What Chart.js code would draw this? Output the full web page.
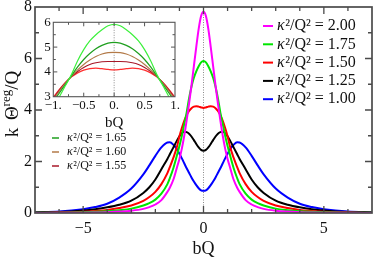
<!DOCTYPE html>
<html><head><meta charset="utf-8">
<script src="https://cdn.jsdelivr.net/npm/chart.js@4/dist/chart.umd.min.js"></script>
<style>
html,body{margin:0;padding:0;background:#fff;}
#wrap{position:relative;width:374px;height:261px;overflow:hidden;}
#main{position:absolute;left:0;top:0;}
#inset{position:absolute;left:36px;top:14px;}
</style></head><body>
<div id="wrap"><canvas id="main" width="374" height="261"></canvas><canvas id="inset" width="150" height="162"></canvas></div>
<script>
// ---------- DATA ----------
const bQ = [-7,-6,-5,-4.5,-4,-3.5,-3,-2.5,-2.25,-2,-1.75,-1.5,-1.4,-1.25,-1.1,-1,-0.9,-0.8,-0.7,-0.6,-0.5,-0.4,-0.3,-0.2,-0.1,0,0.1,0.2,0.3,0.4,0.5,0.6,0.7,0.8,0.9,1,1.1,1.25,1.4,1.5,1.75,2,2.25,2.5,3,3.5,4,4.5,5,6,7];
const kappaMain = ['2.00','1.75','1.50','1.25','1.00'];
const theta200 = [0.002,0.005,0.013,0.02,0.033,0.055,0.09,0.16,0.23,0.33,0.5,0.82,0.98,1.3,1.78,2.1,2.5,3.0,3.6,4.25,4.95,5.7,6.45,7.15,7.65,7.82,7.65,7.15,6.45,5.7,4.95,4.25,3.6,3.0,2.5,2.1,1.78,1.3,0.98,0.82,0.5,0.33,0.23,0.16,0.09,0.055,0.033,0.02,0.013,0.005,0.002];
const theta175 = [0.005,0.012,0.03,0.045,0.07,0.11,0.17,0.29,0.38,0.52,0.75,1.12,1.35,1.75,2.25,2.6,3.0,3.45,3.9,4.45,4.9,5.25,5.5,5.7,5.85,5.9,5.85,5.7,5.5,5.25,4.9,4.45,3.9,3.45,3.0,2.6,2.25,1.75,1.35,1.12,0.75,0.52,0.38,0.29,0.17,0.11,0.07,0.045,0.03,0.012,0.005];
const theta150 = [0.01,0.02,0.05,0.08,0.12,0.19,0.29,0.47,0.62,0.82,1.12,1.55,1.78,2.15,2.58,2.98,3.3,3.58,3.8,3.96,4.07,4.13,4.15,4.13,4.1,4.08,4.1,4.13,4.15,4.13,4.07,3.96,3.8,3.58,3.3,2.98,2.58,2.15,1.78,1.55,1.12,0.82,0.62,0.47,0.29,0.19,0.12,0.08,0.05,0.02,0.01];
const theta125 = [0.02,0.04,0.1,0.15,0.22,0.32,0.48,0.78,1.0,1.3,1.7,2.1,2.28,2.55,2.82,2.98,3.1,3.16,3.14,3.08,2.97,2.83,2.68,2.55,2.45,2.42,2.45,2.55,2.68,2.83,2.97,3.08,3.14,3.16,3.1,2.98,2.82,2.55,2.28,2.1,1.7,1.3,1.0,0.78,0.48,0.32,0.22,0.15,0.1,0.04,0.02];
const theta100 = [0.03,0.06,0.15,0.23,0.36,0.6,0.95,1.5,1.85,2.22,2.55,2.74,2.75,2.65,2.47,2.3,2.12,1.93,1.74,1.56,1.38,1.22,1.08,0.96,0.88,0.86,0.88,0.96,1.08,1.22,1.38,1.56,1.74,1.93,2.12,2.3,2.47,2.65,2.75,2.74,2.55,2.22,1.85,1.5,0.95,0.6,0.36,0.23,0.15,0.06,0.03];

const bQInset = [-1,-0.9,-0.8,-0.7,-0.6,-0.5,-0.4,-0.3,-0.2,-0.1,0,0.1,0.2,0.3,0.4,0.5,0.6,0.7,0.8,0.9,1];
const kappaInset = ['1.75','1.65','1.60','1.55','1.50'];
const inset175 = [2.6,3.0,3.45,3.9,4.45,4.9,5.25,5.5,5.7,5.86,5.92,5.86,5.7,5.5,5.25,4.9,4.45,3.9,3.45,3.0,2.6];
const inset165 = [2.8,3.15,3.5,3.85,4.2,4.5,4.74,4.93,5.07,5.16,5.19,5.16,5.07,4.93,4.74,4.5,4.2,3.85,3.5,3.15,2.8];
const inset160 = [2.88,3.22,3.55,3.83,4.08,4.3,4.48,4.62,4.72,4.78,4.79,4.78,4.72,4.62,4.48,4.3,4.08,3.83,3.55,3.22,2.88];
const inset155 = [2.93,3.27,3.57,3.82,4.02,4.18,4.3,4.37,4.41,4.42,4.42,4.42,4.41,4.37,4.3,4.18,4.02,3.82,3.57,3.27,2.93];
const inset150 = [2.98,3.3,3.58,3.8,3.96,4.07,4.13,4.15,4.13,4.1,4.08,4.1,4.13,4.15,4.13,4.07,3.96,3.8,3.58,3.3,2.98];
const insetLegendKappa = ['1.65','1.60','1.55'];

const xTickValues = [-5,0,5];
const xTickLabels = ['\u22125','0','5'];
const xTickMarks = [-6,-5,-4,-3,-2,-1,0,1,2,3,4,5,6];
const yTickValues = [0,2,4,6,8];
const yTickLabels = ['0','2','4','6','8'];
const yTickMarks = [1,2,3,4,5,6,7];

const insetXTickValues = [-1,-0.5,0,0.5,1];
const insetXTickLabels = ['\u22121.','\u22120.5','0.','0.5','1.'];
const insetXTickMarks = [-0.75,-0.5,-0.25,0,0.25,0.5,0.75];
const insetYTickValues = [3,4,5,6];
const insetYTickLabels = ['3','4','5','6'];
const insetYTickMarks = [3.5,4,4.5,5,5.5];

// ---------- STYLES ----------
const FONT = "'Liberation Serif','Times New Roman',serif";
const mainColors = ['#ff00ff','#00e600','#ff0000','#000000','#0000ff'];
const insetColors = ['#3cf03c','#1f9f1f','#b37a48','#a81828','#ff2f2f'];

function zeroPad(s){ s.paddingTop=0; s.paddingBottom=0; s.paddingLeft=0; s.paddingRight=0; }

function kappaText(ctx, x, y, value, size){
  ctx.font = 'italic ' + size + 'px ' + FONT;
  ctx.fillText('\u03BA', x, y);
  const w = ctx.measureText('\u03BA').width;
  ctx.font = size + 'px ' + FONT;
  ctx.fillText('\u00B2/Q\u00B2 = ' + value, x + w + 0.5, y);
}

function drawFrame(chart, cfg){
  const ctx = chart.ctx, a = chart.chartArea, xs = chart.scales.x, ys = chart.scales.y;
  ctx.save();
  ctx.strokeStyle = cfg.color;
  ctx.lineWidth = cfg.tickWidth;
  ctx.beginPath();
  cfg.xMarks.forEach(v => {
    const p = xs.getPixelForValue(v);
    const L = cfg.xMajor.includes(v) ? cfg.major : cfg.minor;
    ctx.moveTo(p, a.bottom); ctx.lineTo(p, a.bottom - L);
    ctx.moveTo(p, a.top); ctx.lineTo(p, a.top + L);
  });
  cfg.yMarks.forEach(v => {
    const p = ys.getPixelForValue(v);
    const L = cfg.yMajor.includes(v) ? cfg.major : cfg.minor;
    ctx.moveTo(a.left, p); ctx.lineTo(a.left + L, p);
    ctx.moveTo(a.right, p); ctx.lineTo(a.right - L, p);
  });
  ctx.stroke();
  ctx.lineWidth = cfg.frameWidth;
  ctx.strokeRect(a.left, a.top, a.right - a.left, a.bottom - a.top);
  ctx.restore();
}

function drawZeroLine(chart){
  const ctx = chart.ctx, a = chart.chartArea;
  const p = chart.scales.x.getPixelForValue(0);
  ctx.save();
  ctx.strokeStyle = '#8a8a8a';
  ctx.lineWidth = 1;
  ctx.setLineDash([1,1.5]);
  ctx.beginPath(); ctx.moveTo(p, a.top); ctx.lineTo(p, a.bottom); ctx.stroke();
  ctx.restore();
}

// ---------- MAIN CHART ----------
const mainValues = [theta200, theta175, theta150, theta125, theta100];
const mainDeco = {
  id: 'mainDeco',
  beforeDatasetsDraw(chart){ drawZeroLine(chart); },
  afterDraw(chart){
    drawFrame(chart, {color:'#4a4a4a', tickWidth:1.3, frameWidth:1.7, major:7, minor:4,
      xMarks:xTickMarks, xMajor:xTickValues, yMarks:yTickMarks, yMajor:yTickValues});
    const ctx = chart.ctx;
    ctx.save();
    ctx.fillStyle = '#111';
    ctx.font = '18px ' + FONT;
    ctx.textAlign = 'center'; ctx.textBaseline = 'middle';
    ctx.fillText('bQ', chart.scales.x.getPixelForValue(0), 249);
    ctx.translate(18, 104);
    ctx.rotate(-Math.PI/2);
    ctx.textAlign = 'left'; ctx.textBaseline = 'alphabetic';
    const parts = [['k\u2009\u2009\u0398', 19, 0], ['reg', 13, -8], ['/Q', 19, 0]];
    let total = 0;
    parts.forEach(p => { ctx.font = p[1] + 'px ' + FONT; total += ctx.measureText(p[0]).width; });
    let x = -total/2;
    parts.forEach(p => { ctx.font = p[1] + 'px ' + FONT; ctx.fillText(p[0], x, p[2]); x += ctx.measureText(p[0]).width; });
    ctx.restore();
    ctx.save();
    ctx.textBaseline = 'middle'; ctx.textAlign = 'left'; ctx.fillStyle = '#111';
    chart.data.datasets.forEach((ds, i) => {
      const y = 26 + i * 18.3;
      ctx.strokeStyle = ds.borderColor; ctx.lineWidth = 2;
      ctx.beginPath(); ctx.moveTo(263, y); ctx.lineTo(273, y); ctx.stroke();
      ctx.fillStyle = '#111';
      kappaText(ctx, 277, y, ds.kappa, 16);
    });
    ctx.restore();
  }
};

new Chart(document.getElementById('main'), {
  type: 'line',
  data: {
    datasets: mainValues.map((vals, i) => ({
      label: '\u03BA\u00B2/Q\u00B2 = ' + kappaMain[i],
      kappa: kappaMain[i],
      data: bQ.map((x, j) => ({x: x, y: vals[j]})),
      borderColor: mainColors[i],
      borderWidth: 2,
      pointRadius: 0,
      fill: false,
      cubicInterpolationMode: 'monotone'
    }))
  },
  options: {
    responsive: false, animation: false, devicePixelRatio: 1,
    layout: {padding: {top: 7, right: 2, left: 0, bottom: 0}},
    plugins: {legend: {display: false}, tooltip: {enabled: false}},
    scales: {
      x: {
        type: 'linear', min: -7, max: 7,
        grid: {display: false, drawTicks: false}, border: {display: false},
        afterBuildTicks: s => { s.ticks = xTickValues.map(v => ({value: v})); },
        afterFit: s => { s.height = 48; zeroPad(s); },
        ticks: {autoSkip: false, maxRotation: 0, padding: 6.5, color: '#111',
          font: {family: FONT, size: 16}, callback: (v, i) => xTickLabels[i]}
      },
      y: {
        type: 'linear', min: 0, max: 8,
        grid: {display: false, drawTicks: false}, border: {display: false},
        afterBuildTicks: s => { s.ticks = yTickValues.map(v => ({value: v})); },
        afterFit: s => { s.width = 35; zeroPad(s); },
        ticks: {autoSkip: false, padding: 3, color: '#111',
          font: {family: FONT, size: 16}, callback: (v, i) => yTickLabels[i]}
      }
    }
  },
  plugins: [mainDeco]
});

// ---------- INSET ----------
const insetValues = [inset175, inset165, inset160, inset155, inset150];
const insetDeco = {
  id: 'insetDeco',
  beforeDatasetsDraw(chart){ drawZeroLine(chart); },
  afterDraw(chart){
    drawFrame(chart, {color:'#555', tickWidth:1, frameWidth:1.1, major:4, minor:2.5,
      xMarks:insetXTickMarks, xMajor:insetXTickValues, yMarks:insetYTickMarks, yMajor:insetYTickValues});
    const ctx = chart.ctx;
    ctx.save();
    ctx.fillStyle = '#111';
    ctx.font = '15px ' + FONT;
    ctx.textAlign = 'center'; ctx.textBaseline = 'middle';
    ctx.fillText('bQ', chart.scales.x.getPixelForValue(0), 109);
    ctx.textAlign = 'left';
    insetLegendKappa.forEach((k, i) => {
      const ds = chart.data.datasets.find(d => d.kappa === k);
      const y = 124 + i * 14;
      ctx.strokeStyle = ds.borderColor; ctx.lineWidth = 1.5;
      ctx.beginPath(); ctx.moveTo(16, y); ctx.lineTo(23, y); ctx.stroke();
      kappaText(ctx, 31, y, k, 12);
    });
    ctx.restore();
  }
};

new Chart(document.getElementById('inset'), {
  type: 'line',
  data: {
    datasets: insetValues.map((vals, i) => ({
      label: '\u03BA\u00B2/Q\u00B2 = ' + kappaInset[i],
      kappa: kappaInset[i],
      data: bQInset.map((x, j) => ({x: x, y: vals[j]})),
      borderColor: insetColors[i],
      borderWidth: 1.2,
      pointRadius: 0,
      fill: false,
      cubicInterpolationMode: 'monotone'
    }))
  },
  options: {
    responsive: false, animation: false, devicePixelRatio: 1,
    layout: {padding: {top: 8.3, right: 11, left: 0, bottom: 0}},
    plugins: {legend: {display: false}, tooltip: {enabled: false}},
    scales: {
      x: {
        type: 'linear', min: -1, max: 1,
        grid: {display: false, drawTicks: false}, border: {display: false},
        afterBuildTicks: s => { s.ticks = insetXTickValues.map(v => ({value: v})); },
        afterFit: s => { s.height = 79.3; zeroPad(s); },
        ticks: {autoSkip: false, maxRotation: 0, padding: 1.5, color: '#111',
          font: {family: FONT, size: 13}, callback: (v, i) => insetXTickLabels[i]}
      },
      y: {
        type: 'linear', min: 3, max: 6,
        grid: {display: false, drawTicks: false}, border: {display: false},
        afterBuildTicks: s => { s.ticks = insetYTickValues.map(v => ({value: v})); },
        afterFit: s => { s.width = 17.3; zeroPad(s); },
        ticks: {autoSkip: false, padding: 2.6, color: '#111',
          font: {family: FONT, size: 13}, callback: (v, i) => insetYTickLabels[i]}
      }
    }
  },
  plugins: [insetDeco]
});
</script>
</body></html>
